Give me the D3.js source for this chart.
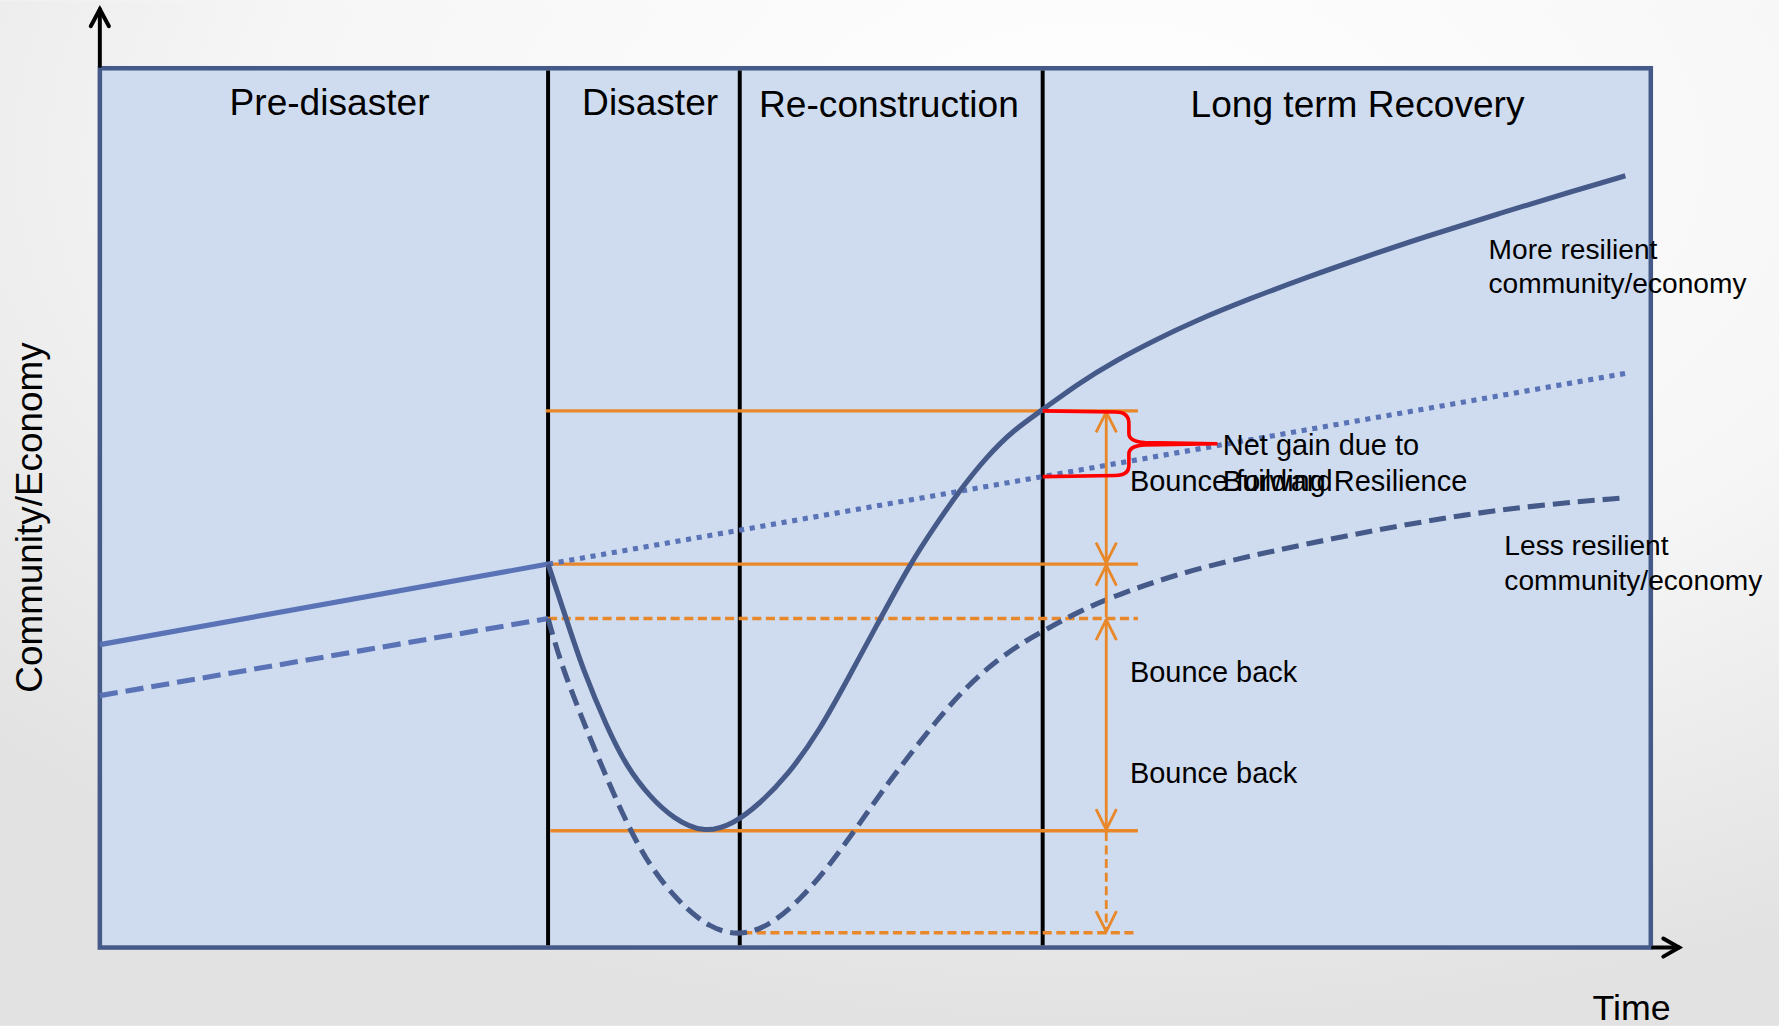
<!DOCTYPE html>
<html>
<head>
<meta charset="utf-8">
<script src="https://d3js.org/d3.v7.min.js"></script>
<style>
  html, body { margin: 0; padding: 0; overflow: hidden; }
  text { font-family: "Liberation Sans", Arial, sans-serif; fill: #000; }
</style>
</head>
<body>
<script>
    // time runs 0..100 across the frame, level 0..100 bottom to top
    var phaseNames = ["Pre-disaster", "Disaster", "Re-construction", "Long term Recovery"];
    var phaseBounds = [0, 28.9, 41.26, 60.79, 100];
    var phaseLabelAt = [14.81, 35.48, 50.88, 81.09];

    var preSolid = [[0, 34.45], [28.9, 43.61]];
    var preDashed = [[0, 28.65], [28.9, 37.42]];
    var trend = [[28.9, 43.61], [98.35, 65.29]];

    var moreResilient = [
        [28.9, 43.61], [30.1, 37.24], [31.16, 31.55], [32.68, 25.11], [33.97, 20.55],
        [35.46, 17.15], [36.97, 14.68], [38.9, 13.0], [40.84, 14.0], [42.56, 16.39],
        [44.28, 19.42], [46.43, 24.72], [48.36, 31.0], [50.08, 36.6], [52.23, 43.61],
        [53.96, 48.23], [55.46, 52.03], [57.18, 55.81], [58.9, 58.84], [60.75, 61.1],
        [63.08, 64.15], [65.55, 66.8], [68.02, 69.07], [70.48, 71.16], [74.18, 73.82],
        [77.89, 76.28], [81.59, 78.55], [85.29, 80.75], [90.22, 83.48], [95.16, 86.13],
        [98.36, 87.77]
    ];
    var lessResilient = [
        [28.9, 37.42], [29.66, 32.68], [30.96, 26.61], [32.46, 20.17], [33.97, 14.12],
        [35.46, 9.19], [37.4, 5.02], [39.33, 2.2], [41.27, 1.3], [43.2, 2.5],
        [45.14, 5.39], [47.07, 9.38], [49.0, 14.12], [50.94, 19.05], [54.16, 26.3],
        [55.89, 29.65], [57.82, 32.68], [59.76, 34.97], [60.83, 36.0], [63.08, 38.2],
        [65.55, 40.08], [69.25, 42.35], [72.95, 44.06], [77.89, 45.95], [82.82, 47.66],
        [87.75, 49.17], [92.69, 50.31], [98.36, 51.16]
    ];

    // orange reference levels: [level, from, to, dashed]
    var levels = [
        [61.03, 28.75, 66.93, false],
        [43.61, 28.9, 66.93, false],
        [37.42, 28.9, 66.93, true],
        [13.29, 29.04, 66.93, false],
        [1.68, 41.48, 66.93, true]
    ];
    var arrowX = 64.89;
    // vertical arrows: [top, bottom, head at top, head at bottom, dashed]
    var arrows = [
        [61.03, 43.61, true, true, false],
        [43.61, 37.42, true, false, false],
        [37.42, 13.29, true, true, false],
        [13.29, 1.68, false, true, true]
    ];

    var braceTop = 61.03, braceBottom = 53.55, braceLeft = 60.79, braceSpine = 66.35, braceTip = 72.06;

    var labels = [
        ["Net gain due to", 72.41, 56.0, 25.5],
        ["Building Resilience", 72.41, 51.9, 25.5],
        ["Bounce forward", 66.42, 51.9, 25.5],
        ["Bounce back", 66.42, 30.2, 25.5],
        ["Bounce back", 66.42, 18.7, 25.5],
        ["More resilient", 89.54, 78.3, 24.8],
        ["community/economy", 89.54, 74.4, 24.8],
        ["Less resilient", 90.56, 44.6, 24.8],
        ["community/economy", 90.56, 40.7, 24.8]
    ];

    var W = 1568, H = 904;
    var x = d3.scaleLinear().domain([0, 100]).range([88, 1455]);
    var y = d3.scaleLinear().domain([0, 100]).range([835, 60]);

    var svg = d3.select("body").append("svg")
        .attr("width", 1779)
        .attr("height", 1026)
        .attr("viewBox", "0 0 " + W + " " + H);

    var defs = svg.append("defs");
    var grad = defs.append("radialGradient")
        .attr("id", "bg").attr("cx", "62%").attr("cy", "15%").attr("r", "85%");
    grad.append("stop").attr("offset", "0%").attr("stop-color", "#ffffff");
    grad.append("stop").attr("offset", "55%").attr("stop-color", "#f6f6f6");
    grad.append("stop").attr("offset", "100%").attr("stop-color", "#e2e2e2");

    svg.append("rect").attr("width", W).attr("height", H).attr("fill", "url(#bg)");

    // frame
    svg.append("rect")
        .attr("x", x(0)).attr("y", y(100))
        .attr("width", x(100) - x(0)).attr("height", y(0) - y(100))
        .attr("fill", "#cfdcef")
        .attr("stroke", "#465a8a")
        .attr("stroke-width", 4);

    // axis arrows
    var ax = svg.append("g").attr("stroke", "#000").attr("stroke-width", 3.5)
        .attr("fill", "none").attr("stroke-linecap", "round");
    ax.append("line").attr("x1", x(0)).attr("x2", x(0)).attr("y1", y(100) - 2).attr("y2", 8);
    ax.append("path").attr("d", "M" + (x(0) - 8) + ",23L" + x(0) + ",8L" + (x(0) + 8) + ",23");
    ax.append("line").attr("x1", x(100) + 2).attr("x2", 1480).attr("y1", y(0)).attr("y2", y(0));
    ax.append("path").attr("d", "M1466," + (y(0) - 8) + "L1480," + y(0) + "L1466," + (y(0) + 8));

    // phase dividers
    svg.selectAll("line.phase")
        .data(phaseBounds.slice(1, 4))
        .enter().append("line")
        .attr("class", "phase")
        .attr("x1", function(d) { return x(d); })
        .attr("x2", function(d) { return x(d); })
        .attr("y1", y(100) + 2).attr("y2", y(0) - 2)
        .attr("stroke", "#000").attr("stroke-width", 3.5);

    svg.selectAll("text.phase")
        .data(phaseNames)
        .enter().append("text")
        .attr("class", "phase")
        .attr("x", function(d, i) { return x(phaseLabelAt[i]); })
        .attr("y", function(d, i) { return i < 2 ? 101 : 103; })
        .attr("text-anchor", "middle")
        .attr("font-size", 32.7)
        .text(function(d) { return d; });

    var orange = "#e8882a";

    // orange level lines
    svg.selectAll("line.level")
        .data(levels)
        .enter().append("line")
        .attr("class", "level")
        .attr("x1", function(d) { return x(d[1]); })
        .attr("x2", function(d) { return x(d[2]); })
        .attr("y1", function(d) { return y(d[0]); })
        .attr("y2", function(d) { return y(d[0]); })
        .attr("stroke", orange).attr("stroke-width", 3)
        .attr("stroke-dasharray", function(d) { return d[3] ? "8,4" : null; });

    var line = d3.line()
        .x(function(d) { return x(d[0]); })
        .y(function(d) { return y(d[1]); });
    var smooth = d3.line()
        .x(function(d) { return x(d[0]); })
        .y(function(d) { return y(d[1]); })
        .curve(d3.curveBasis);

    svg.append("path").attr("d", line(preSolid)).attr("fill", "none")
        .attr("stroke", "#5a73b6").attr("stroke-width", 4.5);
    svg.append("path").attr("d", line(preDashed)).attr("fill", "none")
        .attr("stroke", "#5a73b6").attr("stroke-width", 4.5).attr("stroke-dasharray", "16,7");
    svg.append("path").attr("d", line(trend)).attr("fill", "none")
        .attr("stroke", "#5a73b6").attr("stroke-width", 4.5).attr("stroke-dasharray", "4.5,5");
    svg.append("path").attr("d", smooth(moreResilient)).attr("fill", "none")
        .attr("stroke", "#465a8a").attr("stroke-width", 4.5);
    svg.append("path").attr("d", smooth(lessResilient)).attr("fill", "none")
        .attr("stroke", "#465a8a").attr("stroke-width", 4.5).attr("stroke-dasharray", "15,7");

    // vertical orange arrows
    var ag = svg.append("g").attr("stroke", orange).attr("stroke-width", 2.5).attr("fill", "none");
    arrows.forEach(function(a) {
        var px = x(arrowX), top = y(a[0]), bot = y(a[1]);
        ag.append("line").attr("x1", px).attr("x2", px).attr("y1", top + 1).attr("y2", bot - 1)
            .attr("stroke-dasharray", a[4] ? "8,4" : null);
        if (a[2]) ag.append("path").attr("d", "M" + (px - 9) + "," + (top + 19) + "L" + px + "," + (top + 1) + "L" + (px + 9) + "," + (top + 19));
        if (a[3]) ag.append("path").attr("d", "M" + (px - 9) + "," + (bot - 19) + "L" + px + "," + (bot - 1) + "L" + (px + 9) + "," + (bot - 19));
    });

    // red brace
    var bt = y(braceTop), bb = y(braceBottom), bm = (bt + bb) / 2;
    var xl = x(braceLeft), xs = x(braceSpine), xt = x(braceTip);
    svg.append("path")
        .attr("d", "M" + xl + "," + bt +
            "L" + (xs - 12) + "," + (bt + 1) +
            "Q" + xs + "," + (bt + 1) + " " + xs + "," + (bt + 11) +
            "L" + xs + "," + (bm - 9) +
            "Q" + xs + "," + (bm - 2) + " " + (xs + 14) + "," + (bm - 1) +
            "L" + xt + "," + bm +
            "M" + xt + "," + bm +
            "L" + (xs + 14) + "," + (bm + 1) +
            "Q" + xs + "," + (bm + 2) + " " + xs + "," + (bm + 9) +
            "L" + xs + "," + (bb - 10) +
            "Q" + xs + "," + (bb - 1) + " " + (xs - 12) + "," + (bb - 1) +
            "L" + xl + "," + bb)
        .attr("fill", "none").attr("stroke", "#ff0000").attr("stroke-width", 3.2);

    svg.selectAll("text.note")
        .data(labels)
        .enter().append("text")
        .attr("class", "note")
        .attr("x", function(d) { return x(d[1]); })
        .attr("y", function(d) { return y(d[2]); })
        .attr("font-size", function(d) { return d[3]; })
        .text(function(d) { return d[0]; });

    // axis titles
    svg.append("text")
        .attr("transform", "translate(37,456) rotate(-90)")
        .attr("text-anchor", "middle")
        .attr("font-size", 32.5)
        .text("Community/Economy");
    svg.append("text")
        .attr("x", 1438).attr("y", 899)
        .attr("text-anchor", "middle")
        .attr("font-size", 31.5)
        .text("Time");
</script>
</body>
</html>
